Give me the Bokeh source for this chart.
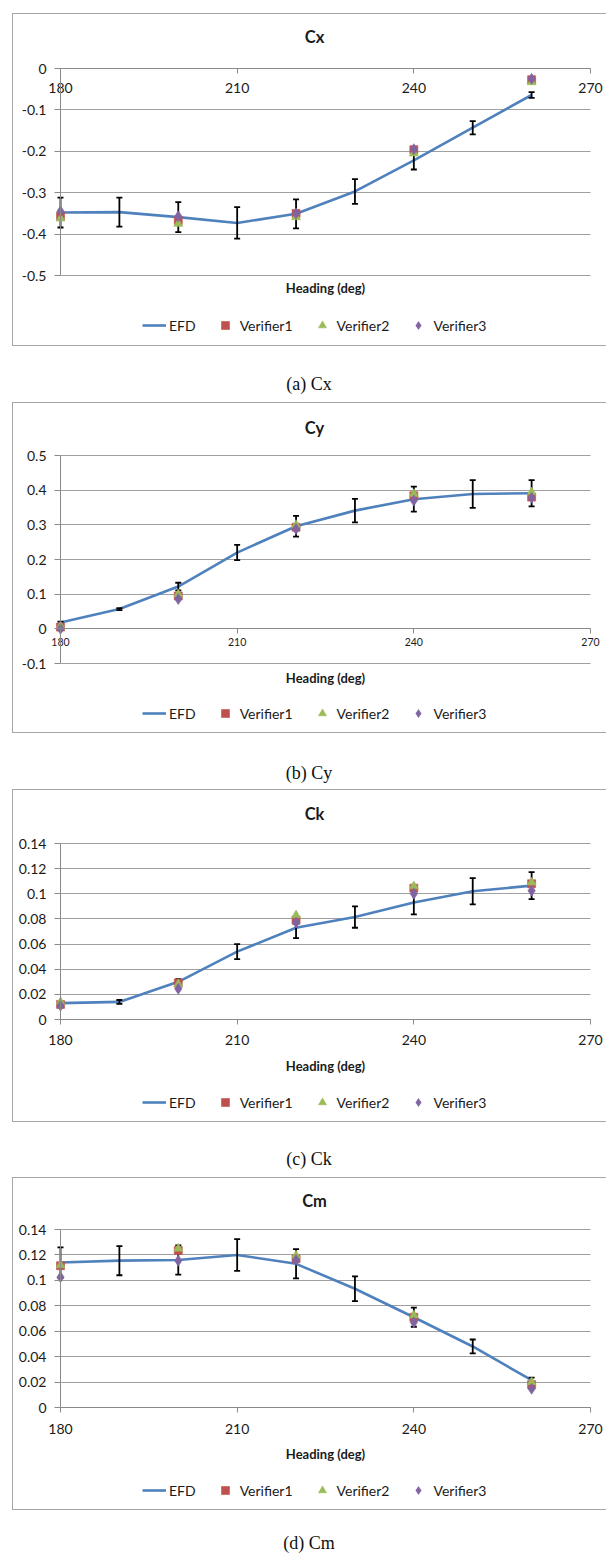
from bokeh.plotting import figure
from bokeh.models import (Legend, LegendItem, FixedTicker, Range1d, Div, Label)
from bokeh.layouts import column
from bokeh.embed import file_html
from bokeh.resources import INLINE

# ---------------- data ----------------
heading = [180, 190, 200, 210, 220, 230, 240, 250, 260]
heading_ver = [180, 200, 220, 240, 260]
x_ticks = [180, 210, 240, 270]
x_labels = ["180", "210", "240", "270"]

cx_efd = [-0.348, -0.347, -0.359, -0.373, -0.351, -0.297, -0.222, -0.143, -0.064]
cx_err = [0.036, 0.035, 0.036, 0.038, 0.035, 0.030, 0.022, 0.016, 0.007]
cx_v1 = [-0.357, -0.367, -0.350, -0.196, -0.027]
cx_v2 = [-0.362, -0.375, -0.359, -0.205, -0.033]
cx_v3 = [-0.345, -0.357, -0.350, -0.195, -0.025]
cx_yticks = [-0.5, -0.4, -0.3, -0.2, -0.1, 0.0]
cx_ylabels = ["-0.5", "-0.4", "-0.3", "-0.2", "-0.1", "0"]

cy_efd = [0.018, 0.057, 0.122, 0.220, 0.296, 0.341, 0.374, 0.389, 0.391]
cy_err = [0.003, 0.003, 0.011, 0.022, 0.030, 0.034, 0.036, 0.040, 0.038]
cy_v1 = [0.005, 0.095, 0.293, 0.384, 0.380]
cy_v2 = [0.008, 0.100, 0.300, 0.389, 0.394]
cy_v3 = [0.000, 0.086, 0.288, 0.370, 0.378]
cy_yticks = [-0.1, 0.0, 0.1, 0.2, 0.3, 0.4, 0.5]
cy_ylabels = ["-0.1", "0", "0.1", "0.2", "0.3", "0.4", "0.5"]

ck_efd = [0.013, 0.014, 0.030, 0.054, 0.073, 0.0815, 0.093, 0.102, 0.1065]
ck_err = [0.001, 0.0015, 0.002, 0.006, 0.0083, 0.0085, 0.0093, 0.0105, 0.0108]
ck_v1 = [0.012, 0.029, 0.079, 0.1045, 0.108]
ck_v2 = [0.014, 0.028, 0.083, 0.106, 0.109]
ck_v3 = [0.011, 0.0245, 0.077, 0.100, 0.1025]
ck_yticks = [0.0, 0.02, 0.04, 0.06, 0.08, 0.10, 0.12, 0.14]
ck_ylabels = ["0", "0.02", "0.04", "0.06", "0.08", "0.1", "0.12", "0.14"]

cm_efd = [0.114, 0.1155, 0.116, 0.120, 0.113, 0.0934, 0.071, 0.048, 0.0215]
cm_err = [0.012, 0.0115, 0.0115, 0.0125, 0.0115, 0.0098, 0.0075, 0.0055, 0.002]
cm_v1 = [0.1115, 0.1235, 0.117, 0.071, 0.018]
cm_v2 = [0.112, 0.125, 0.1195, 0.0725, 0.020]
cm_v3 = [0.1025, 0.1155, 0.116, 0.067, 0.0147]
cm_yticks = ck_yticks
cm_ylabels = ck_ylabels

titles = ["Cx", "Cy", "Ck", "Cm"]
captions = ["(a) Cx", "(b) Cy", "(c) Ck", "(d) Cm"]
series_names = ["EFD", "Verifier1", "Verifier2", "Verifier3"]
x_title = "Heading (deg)"

# ---------------- style ----------------
FONT = "Lato"
C_EFD = "#4F81BD"
C_V1 = "#C0504D"
C_V2 = "#9BBB59"
C_V3 = "#8064A2"
GRID = "#a0a0a0"
AXIS = "#8a8a8a"
TXT = "#1a1a1a"

W = 594
PL, PR = 48, 578        # host px of x = 180 and x = 270
FL, FR = 1, 592         # frame left / right (host px)


def make_panel(title, efd, err, v1, v2, v3, yticks, ylabels,
               H, tick_top, tick_bot, title_c, head_c, leg_c, xfs, xstand):
    ymin, ymax = yticks[0], yticks[-1]
    k = (ymax - ymin) / (tick_bot - tick_top)           # data units per px
    px2y = lambda px: ymax - (px - tick_top) * k
    kx = (270 - 180) / (PR - PL)
    px2x = lambda px: 180 + (px - PL) * kx

    fb = H - 2
    p = figure(width=W, height=H, output_backend="svg", toolbar_location=None,
               x_range=Range1d(px2x(FL), px2x(FR)), y_range=Range1d(px2y(fb), px2y(1)),
               min_border_left=FL, min_border_right=W - FR,
               min_border_top=1, min_border_bottom=H - fb)
    p.outline_line_color = None
    p.background_fill_color = None
    p.border_fill_color = None
    p.styles = {"box-shadow": "inset 1px 1px 0 #a6a6a6, inset 0 -1px 0 #a6a6a6"}

    # x axis drawn at y = 0
    xa = p.xaxis[0]
    xa.ticker = FixedTicker(ticks=x_ticks)
    xa.bounds = (180, 270)
    xa.major_label_overrides = {t: l for t, l in zip(x_ticks, x_labels)}
    xa.fixed_location = 0
    xa.axis_line_color = AXIS
    xa.major_tick_line_color = AXIS
    xa.major_tick_out = 5
    xa.major_tick_in = 0
    xa.minor_tick_line_color = None
    xa.major_label_text_font = FONT
    xa.major_label_text_font_size = xfs
    xa.major_label_text_color = TXT
    xa.major_label_standoff = xstand
    p.xgrid.visible = False

    # y axis drawn at x = 180
    ya = p.yaxis[0]
    ya.ticker = FixedTicker(ticks=yticks)
    ya.bounds = (ymin, ymax)
    ya.fixed_location = 180
    ya.major_label_overrides = {t: l for t, l in zip(yticks, ylabels)}
    ya.axis_line_color = AXIS
    ya.major_tick_line_color = AXIS
    ya.major_tick_out = 6
    ya.major_tick_in = 0
    ya.minor_tick_line_color = None
    ya.major_label_text_font = FONT
    ya.major_label_text_font_size = "14px"
    ya.major_label_text_color = TXT
    ya.major_label_standoff = 8
    p.ygrid.ticker = FixedTicker(ticks=yticks)
    p.ygrid.cross_bounds = (180, 270)
    p.ygrid.grid_line_color = GRID
    p.ygrid.grid_line_width = 1

    # chart title and axis title
    p.add_layout(Label(x=px2x(314 - 12), y=px2y(title_c), text=title,
                       text_align="center", text_baseline="middle",
                       text_font=FONT, text_font_size="16.5px", text_font_style="bold",
                       text_color=TXT))
    p.add_layout(Label(x=225, y=px2y(head_c), text=x_title,
                       text_align="center", text_baseline="middle",
                       text_font=FONT, text_font_size="13px", text_font_style="bold",
                       text_color=TXT))

    # data
    r_efd = p.line(heading, efd, line_color=C_EFD, line_width=2.6)
    lo = [e - d for e, d in zip(efd, err)]
    hi = [e + d for e, d in zip(efd, err)]
    p.segment(x0=heading, y0=lo, x1=heading, y1=hi, line_color="black", line_width=1.8)
    p.scatter(heading, lo, marker="dash", size=6, line_color="black", line_width=1.8)
    p.scatter(heading, hi, marker="dash", size=6, line_color="black", line_width=1.8)
    r1 = p.scatter(heading_ver, v1, marker="square", size=8, fill_color=C_V1,
                   line_color=C_V1, line_alpha=0.6)
    r2 = p.scatter(heading_ver, v2, marker="triangle", size=9, fill_color=C_V2,
                   line_color=C_V2, line_alpha=0.6)
    r3 = p.scatter(heading_ver, v3, marker="diamond", size=11, fill_color=C_V3,
                   line_color=C_V3, line_alpha=0.6)

    legend = Legend(items=[LegendItem(label=series_names[0], renderers=[r_efd]),
                           LegendItem(label=series_names[1], renderers=[r1]),
                           LegendItem(label=series_names[2], renderers=[r2]),
                           LegendItem(label=series_names[3], renderers=[r3])],
                    orientation="horizontal", margin=0, padding=0,
                    location=(142 - 12 - FL, fb - leg_c - 10),
                    border_line_color=None, background_fill_alpha=0,
                    glyph_width=24, glyph_height=20, label_height=20,
                    label_standoff=3, spacing=17,
                    label_text_font=FONT, label_text_font_size="14px",
                    label_text_color=TXT)
    p.add_layout(legend, "center")
    return p


def caption(text, h, pad):
    return Div(text=f'<div style="padding-top:{pad}px;line-height:16px;text-align:center;'
                    f'font-family:\'Liberation Serif\',serif;font-size:18px;color:#111;'
                    f'width:{W}px;">{text}</div>',
               width=W, height=h, margin=(0, 0, 0, 12), styles={"overflow": "hidden"})


# host-relative geometry (px): height, top tick, bottom tick, title, x-title, legend
pa = make_panel(titles[0], cx_efd, cx_err, cx_v1, cx_v2, cx_v3, cx_yticks, cx_ylabels,
                333, 55, 262, 23, 274, 312, "14px", 9)
pa.margin = (13, 0, 0, 12)
pb = make_panel(titles[1], cy_efd, cy_err, cy_v1, cy_v2, cy_v3, cy_yticks, cy_ylabels,
                331, 53, 261, 25, 275, 311, "10.5px", 4)
pb.margin = (0, 0, 0, 12)
pc = make_panel(titles[2], ck_efd, ck_err, ck_v1, ck_v2, ck_v3, ck_yticks, ck_ylabels,
                333, 54, 230, 24, 276, 313, "14px", 10)
pc.margin = (0, 0, 0, 12)
pd = make_panel(titles[3], cm_efd, cm_err, cm_v1, cm_v2, cm_v3, cm_yticks, cm_ylabels,
                333, 52, 230, 23, 276, 313, "14px", 11)
pd.margin = (0, 0, 0, 12)

layout = column(pa, caption(captions[0], 56, 30),
                pb, caption(captions[1], 56, 32),
                pc, caption(captions[2], 55, 29),
                pd, caption(captions[3], 45, 25),
                spacing=0)

open("out.html", "w").write(file_html(layout, INLINE))
